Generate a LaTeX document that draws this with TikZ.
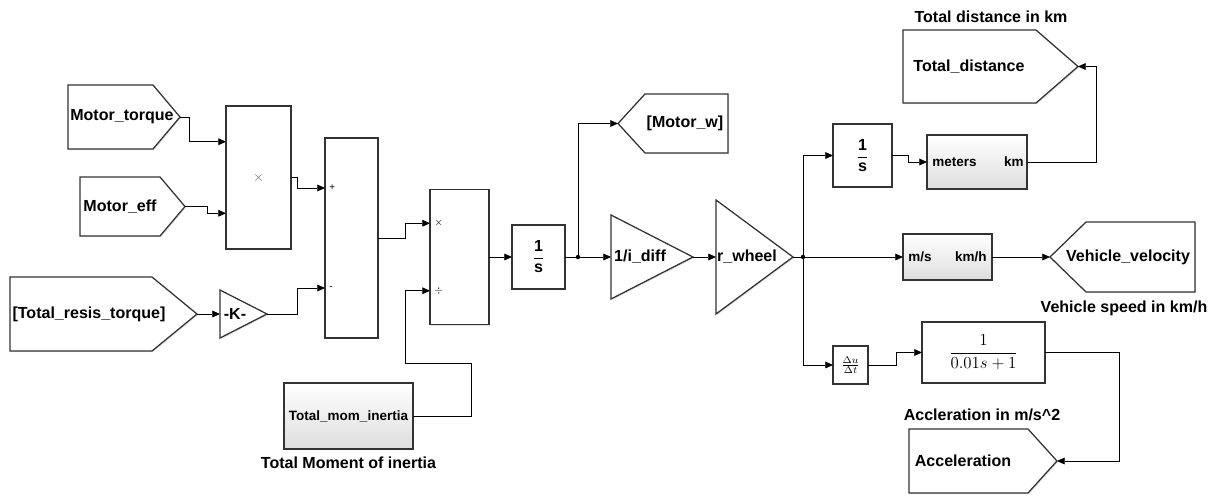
\documentclass[tikz,border=0pt]{standalone}
\usepackage{fontspec}
\setmainfont{Liberation Sans}
\usepackage{amsmath}
\usetikzlibrary{arrows.meta, calc, shadows}

\tikzset{
  shd/.style={drop shadow={opacity=0.22, shadow xshift=0.8pt, shadow yshift=-0.8pt}},
  blk/.style 2 args={draw=black!80, line width=0.9pt, fill=white, shd, inner sep=0pt, outer sep=0pt,
    minimum width=#1*0.025cm, minimum height=#2*0.025cm},
  gblk/.style 2 args={blk={#1}{#2}, top color=white, bottom color=black!13},
  tag/.style={draw=black!80, line width=0.9pt, fill=white, shd},
  txt/.style={font=\bfseries\fontsize{11.4}{13}\selectfont, inner sep=0pt},
  stxt/.style={font=\bfseries\fontsize{9.6}{11}\selectfont, inner sep=0pt},
  sgn/.style={font=\fontsize{7}{8}\selectfont, inner sep=0pt},
  wire/.style={line width=0.6pt, -{Triangle[length=5.5pt, width=4.8pt]}}
}

\begin{document}
\begin{tikzpicture}[x=0.025cm, y=-0.025cm]
\useasboundingbox (0,0) rectangle (1217,495);

% blocks
\node[blk={65}{143}] (prod) at (258.5,177.5) {};
\node[font=\fontsize{10}{12}\selectfont, text=black!60] (prodx) at (prod) {$\times$};
\node[blk={53}{200}] (sum) at (351.5,238) {};
\node[blk={59}{135}] (divb) at (459.5,257) {};
\node[blk={53}{64}, txt] (int1) at (538.5,257) {$\dfrac{\textbf{1}}{\textbf{s}}$};
\node[gblk={129}{66}, stxt] (inertia) at (348.5,416) {Total\_mom\_inertia};
\node[blk={59}{63}, txt] (int2) at (862.5,155.5) {$\dfrac{\textbf{1}}{\textbf{s}}$};
\node[gblk={100}{54}] (m2km) at (977,162) {};
\node[gblk={89}{46}] (ms2kmh) at (947.5,257) {};
\node[blk={35}{38}, font=\fontsize{10}{11}\selectfont] (deriv) at (850.5,365) {$\frac{\Delta u}{\Delta t}$};
\node[blk={123}{61}, font=\fontsize{11.5}{13}\selectfont] (tf) at (983.5,352.5) {$\dfrac{1}{0.01s+1}$};

\node[stxt, anchor=west] (mtr) at ($(m2km.west)+(5,0)$) {meters};
\node[stxt, anchor=east] (kmu) at ($(m2km.east)+(-3,0)$) {km};
\node[stxt, anchor=west] (msu) at ($(ms2kmh.west)+(5,0)$) {m/s};
\node[stxt, anchor=east] (kmhu) at ($(ms2kmh.east)+(-5,0)$) {km/h};

\coordinate (prodin1) at ($(prod.north west)!.25!(prod.south west)$);
\coordinate (prodin2) at ($(prod.north west)!.75!(prod.south west)$);
\coordinate (sumin1) at ($(sum.north west)!.25!(sum.south west)$);
\coordinate (sumin2) at ($(sum.north west)!.75!(sum.south west)$);
\coordinate (divin1) at ($(divb.north west)!.25!(divb.south west)$);
\coordinate (divin2) at ($(divb.north west)!.75!(divb.south west)$);
\node[sgn, anchor=west] (sump) at ($(sumin1)+(4,0)$) {+};
\node[sgn, anchor=west] (summ) at ($(sumin2)+(4,0)$) {-};
\node[sgn, anchor=west] (divm) at ($(divin1)+(4,0)$) {$\times$};
\node[sgn, anchor=west] (divd) at ($(divin2)+(4,0)$) {$\div$};

% from / goto tags
\draw[tag] (68,85) -- (153,85) -- (180,117) -- (153,149) -- (68,149) -- cycle;
\node[txt] (mtq) at (122,117) {Motor\_torque};
\coordinate (mtqtip) at (180,117);
\draw[tag] (80,177) -- (160,177) -- (185,206.5) -- (160,236) -- (80,236) -- cycle;
\node[txt] (mef) at (120,206.5) {Motor\_eff};
\coordinate (meftip) at (185,206.5);
\draw[tag] (10,277) -- (152,277) -- (197,314) -- (152,351) -- (10,351) -- cycle;
\node[txt] (tres) at (89,314) {[Total\_resis\_torque]};
\coordinate (trtip) at (197,314);
\draw[tag] (618,123.5) -- (645,94) -- (728,94) -- (728,153) -- (645,153) -- cycle;
\node[txt] (mw) at (685,123.5) {[Motor\_w]};
\coordinate (mwtip) at (618,123.5);
\draw[tag] (903,30) -- (1036,30) -- (1078,66.5) -- (1036,103) -- (903,103) -- cycle;
\node[txt] (td) at (969,66.5) {Total\_distance};
\coordinate (tdtip) at (1078,66.5);
\draw[tag] (1050,257) -- (1086,222) -- (1195,222) -- (1195,292) -- (1086,292) -- cycle;
\node[txt] (vv) at (1128,257) {Vehicle\_velocity};
\coordinate (vvtip) at (1050,257);
\draw[tag] (909,429) -- (1028,429) -- (1057,461) -- (1028,493) -- (909,493) -- cycle;
\node[txt] (acc) at (963,461) {Acceleration};
\coordinate (actip) at (1057,461);

% gains
\draw[tag] (220,290) -- (267,314) -- (220,338) -- cycle;
\node[txt] (kgain) at (235,314) {-K-};
\coordinate (kin) at (220,314);
\coordinate (kout) at (267,314);
\draw[tag] (611,215) -- (693,257) -- (611,299) -- cycle;
\node[txt] (idiff) at (640,257) {1/i\_diff};
\coordinate (idin) at (611,257);
\coordinate (idout) at (693,257);
\draw[tag] (716,200) -- (793,257) -- (716,314) -- cycle;
\node[txt] (rw) at (747,257) {r\_wheel};
\coordinate (rwin) at (716,257);
\coordinate (rwout) at (793,257);

% labels
\node[txt] (tdlbl) at (991,17) {Total distance in km};
\node[txt] (vslbl) at (1124,308) {Vehicle speed in km/h};
\node[txt] (aclbl) at (982,415) {Accleration in m/s\textasciicircum2};
\node[txt] (milbl) at (348.5,463) {Total Moment of inertia};

% signals
\coordinate (brA) at (578,257);
\coordinate (brB) at (803,257);
\draw[wire] (mtqtip) -- ++(9,0) |- (prodin1);
\draw[wire] (meftip) -- ++(22,0) |- (prodin2);
\draw[wire] (prod.east) -- ++(6,0) |- (sumin1);
\draw[wire] (trtip) -- (kin);
\draw[wire] (kout) -- ++(30,0) |- (sumin2);
\draw[wire] (sum.east) -- ++(27,0) |- (divin1);
\draw[wire] (inertia.east) -- ++(58,0) |- (405,363) |- (divin2);
\draw[wire] (divb.east) -- (int1.west);
\draw[wire] (int1.east) -- (idin);
\draw[wire] (brA) |- (mwtip);
\draw[wire] (idout) -- (rwin);
\draw[wire] (rwout) -- (ms2kmh.west);
\draw[wire] (brB) |- (int2.west);
\draw[wire] (brB) |- (deriv.west);
\draw[wire] (int2.east) -- ++(16,0) |- (m2km.west);
\draw[wire] (m2km.east) -- ++(69,0) |- (tdtip);
\draw[wire] (ms2kmh.east) -- (vvtip);
\draw[wire] (deriv.east) -- ++(28,0) |- (tf.west);
\draw[wire] (tf.east) -- ++(74,0) |- (actip);
\fill (brA) circle (1.6pt);
\fill (brB) circle (1.6pt);
\end{tikzpicture}
\end{document}
